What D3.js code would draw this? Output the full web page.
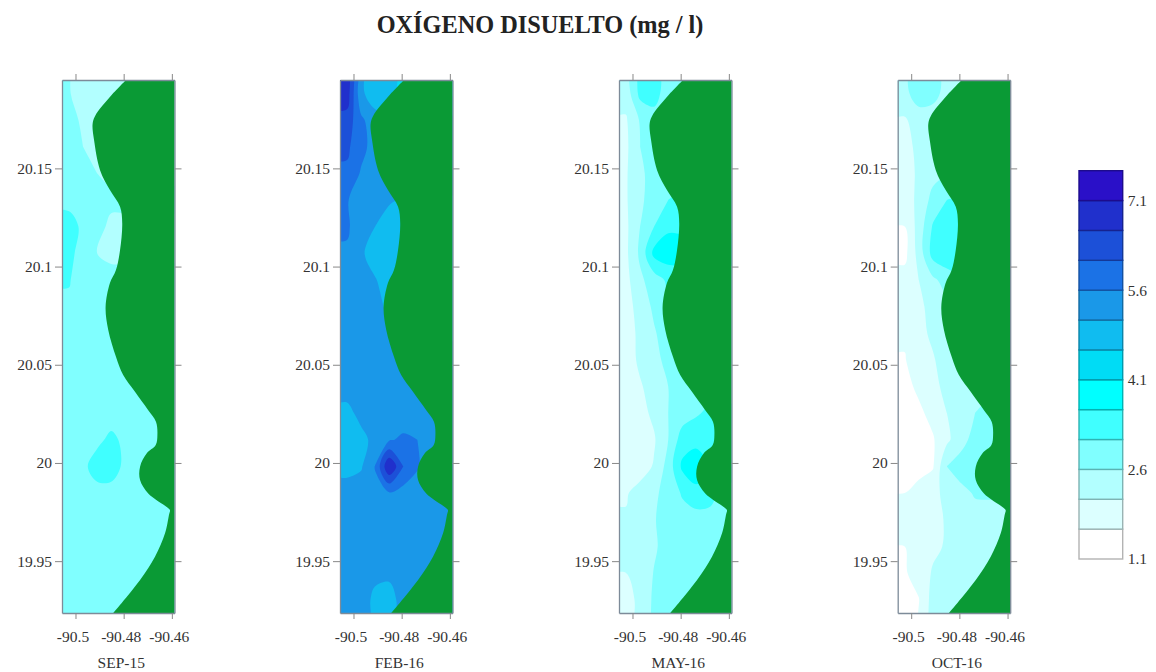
<!DOCTYPE html>
<html>
<head>
<meta charset="utf-8">
<script src="https://cdn.jsdelivr.net/npm/d3@7"></script>
<style>
    html, body { margin: 0; background: #fff; }
    text { font-family: "Liberation Serif", serif; fill: #333; }
</style>
</head>
<body>
<div id="content"></div>
<script>
const lonExtent = [-90.5056, -90.4589];
const latExtent = [20.195, 19.9236];
const lonTicks = [-90.5, -90.48, -90.46];
const latTicks = [19.95, 20, 20.05, 20.1, 20.15];

const levels = [1.1, 1.6, 2.1, 2.6, 3.1, 3.6, 4.1, 4.6, 5.1, 5.6, 6.1, 6.6, 7.1, 7.6];
const levelColors = ["#ffffff", "#dcffff", "#b2ffff", "#80ffff", "#40ffff", "#00ffff", "#00dcf5",
    "#10bcf0", "#1a98e8", "#1b72e6", "#1c50d8", "#2030cc", "#2a10c8"];
const legendLabels = [1.1, 2.6, 4.1, 5.6, 7.1];
const landColor = "#0a9a35";

// coast, north to south
const coastLon = [-90.4790, -90.4850, -90.4919, -90.4929, -90.4923, -90.4898, -90.4857, -90.4815, -90.4806, -90.4815,
    -90.4832, -90.4857, -90.4875, -90.4864, -90.4832, -90.4802, -90.4753, -90.4698, -90.4666, -90.4660,
    -90.4667, -90.4704, -90.4732, -90.4732, -90.4698, -90.4620, -90.4608, -90.4612, -90.4628, -90.4670, -90.4732, -90.4843];
const coastLat = [20.195, 20.1873, 20.1766, 20.1726, 20.1644, 20.1491, 20.1390, 20.1305, 20.1220, 20.1084,
    20.0982, 20.0916, 20.0795, 20.0677, 20.0541, 20.0448, 20.0363, 20.0269, 20.0210, 20.0142,
    20.0091, 20.0049, 19.9981, 19.9913, 19.9845, 19.9775, 19.9760, 19.9735, 19.9643, 19.9522, 19.9404, 19.9236];

// oxygen on a regular grid, 20 rows north to south, 8 columns west to east
const sep15 = [
    [2.62, 2.45, 2.40, 2.40, 2.40, 2.40, 2.40, 2.40],
    [2.70, 2.55, 2.45, 2.40, 2.40, 2.40, 2.40, 2.40],
    [2.80, 2.60, 2.50, 2.45, 2.45, 2.45, 2.45, 2.45],
    [2.85, 2.75, 2.60, 2.50, 2.50, 2.50, 2.50, 2.50],
    [2.95, 2.85, 2.75, 2.70, 2.70, 2.70, 2.70, 2.70],
    [3.30, 3.00, 2.75, 2.50, 2.50, 2.50, 2.50, 2.50],
    [3.20, 2.95, 2.60, 2.50, 2.50, 2.50, 2.50, 2.50],
    [3.12, 2.95, 2.80, 2.75, 2.75, 2.75, 2.75, 2.75],
    [3.05, 2.90, 2.85, 2.85, 2.85, 2.85, 2.85, 2.85],
    [2.95, 2.90, 2.85, 2.85, 2.85, 2.85, 2.85, 2.85],
    [2.90, 2.85, 2.85, 2.85, 2.85, 2.85, 2.85, 2.85],
    [2.85, 2.85, 2.85, 2.85, 2.85, 2.85, 2.85, 2.85],
    [2.85, 2.85, 2.90, 2.90, 2.85, 2.85, 2.85, 2.85],
    [2.85, 2.90, 3.00, 3.20, 3.00, 2.90, 2.85, 2.85],
    [2.90, 3.00, 3.30, 3.30, 3.00, 2.90, 2.85, 2.85],
    [2.85, 2.90, 2.95, 2.95, 2.90, 2.85, 2.85, 2.85],
    [2.85, 2.85, 2.85, 2.85, 2.85, 2.85, 2.85, 2.85],
    [2.85, 2.85, 2.85, 2.85, 2.85, 2.85, 2.85, 2.85],
    [2.85, 2.85, 2.85, 2.85, 2.85, 2.85, 2.85, 2.85],
    [2.85, 2.85, 2.85, 2.85, 2.85, 2.85, 2.85, 2.85]
];
const feb16 = [
    [6.90, 5.20, 4.80, 4.75, 4.50, 4.50, 4.50, 4.50],
    [6.40, 5.70, 5.30, 5.20, 5.20, 5.20, 5.20, 5.20],
    [6.20, 5.75, 5.40, 5.30, 5.30, 5.30, 5.30, 5.30],
    [6.00, 5.55, 5.40, 5.35, 5.30, 5.30, 5.30, 5.30],
    [5.62, 5.45, 5.35, 5.15, 5.05, 5.05, 5.05, 5.05],
    [5.65, 5.40, 5.10, 4.90, 4.85, 4.85, 4.85, 4.85],
    [5.55, 5.15, 4.95, 4.85, 4.85, 4.85, 4.85, 4.85],
    [5.40, 5.30, 5.12, 4.95, 4.90, 4.90, 4.90, 4.90],
    [5.40, 5.35, 5.25, 5.00, 4.90, 4.90, 4.90, 4.90],
    [5.40, 5.35, 5.30, 5.12, 5.00, 5.00, 5.00, 5.00],
    [5.35, 5.35, 5.35, 5.30, 5.30, 5.30, 5.30, 5.30],
    [5.25, 5.35, 5.35, 5.35, 5.35, 5.35, 5.35, 5.35],
    [5.00, 5.20, 5.35, 5.35, 5.35, 5.35, 5.35, 5.35],
    [4.85, 5.00, 5.20, 5.55, 5.68, 5.60, 5.30, 5.30],
    [4.95, 5.05, 5.62, 7.10, 6.10, 5.65, 5.35, 5.35],
    [5.30, 5.35, 5.50, 5.55, 5.40, 5.35, 5.35, 5.35],
    [5.35, 5.35, 5.35, 5.35, 5.35, 5.35, 5.35, 5.35],
    [5.35, 5.35, 5.35, 5.35, 5.35, 5.35, 5.35, 5.35],
    [5.35, 5.30, 5.20, 5.20, 5.35, 5.35, 5.35, 5.35],
    [5.35, 5.30, 5.00, 4.90, 5.30, 5.30, 5.30, 5.30]
];
const may16 = [
    [2.30, 3.25, 3.25, 2.90, 2.60, 2.60, 2.60, 2.60],
    [2.05, 2.65, 2.95, 2.90, 2.85, 2.85, 2.85, 2.85],
    [2.00, 2.60, 2.85, 2.85, 2.85, 2.85, 2.85, 2.85],
    [2.05, 2.50, 2.80, 2.90, 2.90, 2.90, 2.90, 2.90],
    [2.05, 2.50, 2.85, 3.10, 3.20, 3.20, 3.20, 3.20],
    [2.00, 2.60, 3.10, 3.50, 3.50, 3.50, 3.50, 3.50],
    [2.00, 2.70, 3.75, 3.90, 3.85, 3.85, 3.85, 3.85],
    [1.95, 2.50, 2.85, 3.20, 3.30, 3.30, 3.30, 3.30],
    [1.90, 2.30, 2.70, 3.00, 3.00, 3.00, 3.00, 3.00],
    [1.90, 2.20, 2.55, 2.85, 2.90, 2.90, 2.90, 2.90],
    [1.85, 2.20, 2.45, 2.75, 2.90, 2.90, 2.90, 2.90],
    [1.80, 2.05, 2.30, 2.60, 2.85, 2.90, 2.90, 2.90],
    [1.75, 1.95, 2.20, 2.60, 2.85, 3.05, 3.20, 3.20],
    [1.70, 1.85, 2.05, 2.60, 3.35, 3.40, 3.30, 3.30],
    [1.70, 1.85, 2.15, 2.80, 3.70, 4.00, 3.60, 3.40],
    [2.05, 2.30, 2.50, 2.80, 3.15, 3.40, 3.30, 2.90],
    [2.15, 2.35, 2.57, 2.80, 2.90, 2.90, 2.90, 2.90],
    [2.15, 2.35, 2.55, 2.75, 2.85, 2.85, 2.85, 2.85],
    [2.10, 2.35, 2.62, 2.80, 2.85, 2.85, 2.85, 2.85],
    [1.95, 2.20, 2.70, 2.85, 2.90, 2.90, 2.90, 2.90]
];
const oct16 = [
    [2.45, 2.90, 2.80, 2.40, 2.30, 2.30, 2.30, 2.30],
    [2.05, 2.30, 2.30, 2.40, 2.40, 2.40, 2.40, 2.40],
    [1.90, 2.25, 2.40, 2.40, 2.40, 2.40, 2.40, 2.40],
    [1.85, 2.20, 2.45, 2.55, 2.55, 2.55, 2.55, 2.55],
    [1.80, 2.25, 2.75, 3.10, 3.20, 3.20, 3.20, 3.20],
    [1.60, 2.30, 3.15, 3.40, 3.40, 3.40, 3.40, 3.40],
    [1.45, 2.30, 3.30, 3.50, 3.50, 3.50, 3.50, 3.50],
    [1.80, 2.10, 2.50, 2.80, 3.00, 3.00, 3.00, 3.00],
    [1.75, 2.00, 2.25, 2.45, 2.50, 2.50, 2.50, 2.50],
    [1.65, 1.95, 2.20, 2.40, 2.45, 2.45, 2.45, 2.45],
    [1.58, 1.80, 2.05, 2.35, 2.50, 2.50, 2.50, 2.50],
    [1.45, 1.70, 1.95, 2.25, 2.50, 2.50, 2.50, 2.50],
    [1.35, 1.50, 1.75, 2.10, 2.45, 2.60, 2.70, 2.70],
    [1.30, 1.40, 1.55, 2.00, 2.40, 2.80, 2.90, 2.90],
    [1.30, 1.40, 1.55, 2.60, 2.85, 2.90, 2.90, 2.90],
    [1.60, 1.80, 2.00, 2.20, 2.45, 2.65, 2.65, 2.65],
    [1.65, 1.80, 1.95, 2.15, 2.30, 2.40, 2.45, 2.45],
    [1.60, 1.80, 2.00, 2.15, 2.30, 2.40, 2.40, 2.40],
    [1.55, 1.80, 2.15, 2.30, 2.40, 2.40, 2.40, 2.40],
    [1.35, 1.58, 2.30, 2.40, 2.45, 2.45, 2.45, 2.45]
];
const panelNames = ["SEP-15", "FEB-16", "MAY-16", "OCT-16"];
const panelGrids = [sep15, feb16, may16, oct16];

const width = 1156, height = 672;
const panelLeft = [62, 340, 619, 897.7];
const panelTop = 80, panelW = 112.5, panelH = 533;
const frameColor = "#7d8b99";
const labelSize = "15.5px";

var svg = d3.select("#content")
    .append("svg")
    .attr("width", width)
    .attr("height", height)
    .style("display", "block");

svg.append("text")
    .attr("x", 540)
    .attr("y", 33)
    .attr("text-anchor", "middle")
    .style("font-size", "24.3px")
    .style("font-weight", "bold")
    .style("fill", "#222")
    .text("OXÍGENO DISUELTO (mg / l)");

const x = d3.scaleLinear().domain(lonExtent).range([0, panelW]);
const y = d3.scaleLinear().domain(latExtent).range([0, panelH]);

// the grid gets one repeated cell on every side so the contours run past the frame
const nx = sep15[0].length, ny = sep15.length;
const gridLon = d3.scaleLinear().domain([1, nx + 1]).range(lonExtent);
const gridLat = d3.scaleLinear().domain([1, ny + 1]).range(latExtent);

function padGrid(grid) {
    const rows = grid.map(r => [r[0], ...r, r[r.length - 1]]);
    return [rows[0], ...rows, rows[rows.length - 1]].flat();
}

const contours = d3.contours().size([nx + 2, ny + 2]).thresholds(levels.slice(0, -1));
const ringLine = d3.line()
    .x(d => x(gridLon(d[0])))
    .y(d => y(gridLat(d[1])))
    .curve(d3.curveCatmullRomClosed.alpha(0.5));

function contourPath(c) {
    return c.coordinates.map(poly => poly.map(r => ringLine(r.slice(0, -1))).join("")).join("");
}

const coast = coastLon.map((lon, i) => [lon, coastLat[i]]);
const coastLine = d3.line()
    .x(d => x(d[0]))
    .y(d => y(d[1]))
    .curve(d3.curveCatmullRom.alpha(0.5));

panelGrids.forEach((grid, p) => {
    const g = svg.append("g")
        .attr("transform", "translate(" + panelLeft[p] + "," + panelTop + ")");

    g.append("clipPath")
        .attr("id", "clip" + p)
        .append("rect")
        .attr("width", panelW)
        .attr("height", panelH);

    g.append("g")
        .attr("clip-path", "url(#clip" + p + ")")
        .selectAll("path")
        .data(contours(padGrid(grid)))
        .enter()
        .append("path")
        .attr("d", contourPath)
        .style("fill", (d, i) => levelColors[i]);

    // land goes over the field: coast path closed along the east edge
    g.append("path")
        .attr("d", coastLine(coast)
            + "L" + x(lonExtent[1]) + "," + y(latExtent[1])
            + "L" + x(lonExtent[1]) + "," + y(latExtent[0]) + "Z")
        .style("fill", landColor);

    const axes = [
        d3.axisLeft(y).tickValues(latTicks).tickSize(7).tickSizeOuter(0).tickFormat(d => String(d)),
        d3.axisRight(y).tickValues(latTicks).tickSize(7).tickSizeOuter(0).tickFormat(""),
        d3.axisTop(x).tickValues(lonTicks).tickSize(6).tickSizeOuter(0).tickFormat(""),
        d3.axisBottom(x).tickValues(lonTicks).tickSize(6).tickSizeOuter(0).tickPadding(12).tickFormat(d => String(d))
    ];
    const shifts = [[0, 0], [panelW, 0], [0, 0], [0, panelH]];
    axes.forEach((axis, k) => {
        const a = g.append("g")
            .attr("transform", "translate(" + shifts[k] + ")")
            .call(axis);
        a.select(".domain").attr("stroke", frameColor).attr("stroke-width", 1.3);
        a.selectAll("line").attr("stroke", "#888");
        a.selectAll("text")
            .style("font-size", labelSize)
            .style("font-family", '"Liberation Serif", serif')
            .style("fill", "#333");
        if (k == 3) a.selectAll("text").attr("dx", -3);
    });

    g.append("text")
        .attr("x", panelW / 2 + 3)
        .attr("y", panelH + 55)
        .attr("text-anchor", "middle")
        .style("font-size", labelSize)
        .text(panelNames[p]);
});

// legend
const legendX = 1079, legendW = 43.7;
const legendY = d3.scaleLinear().domain([levels[0], levels[levels.length - 1]]).range([559, 170.7]);
const legend = svg.append("g").attr("transform", "translate(" + legendX + ",0)");

legend.selectAll("rect")
    .data(levelColors)
    .enter()
    .append("rect")
    .attr("x", 0)
    .attr("y", (d, i) => legendY(levels[i + 1]))
    .attr("width", legendW)
    .attr("height", (d, i) => legendY(levels[i]) - legendY(levels[i + 1]))
    .style("fill", d => d)
    .style("stroke", d => d3.color(d).darker(1))
    .style("stroke-width", 1.4);

const legendAxis = legend.append("g")
    .attr("transform", "translate(" + legendW + ",0)")
    .call(d3.axisRight(legendY).tickValues(legendLabels).tickSize(0).tickPadding(5).tickFormat(d3.format(".1f")));
legendAxis.select(".domain").remove();
legendAxis.selectAll("text")
    .style("font-size", labelSize)
    .style("font-family", '"Liberation Serif", serif')
    .style("fill", "#333");
</script>
</body>
</html>
